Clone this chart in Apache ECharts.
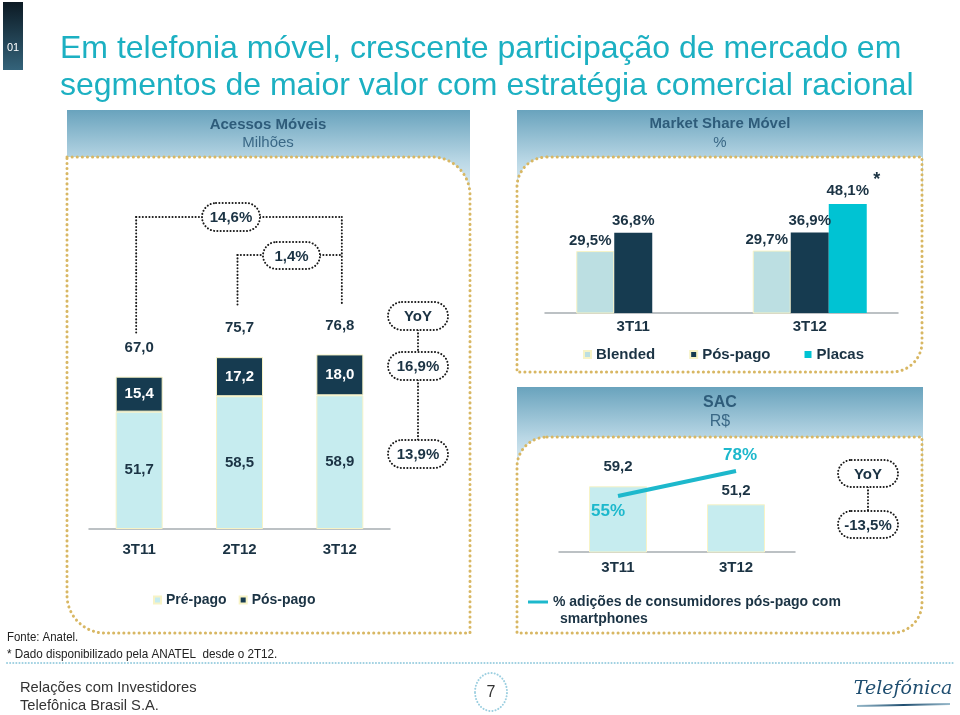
<!DOCTYPE html>
<html><head><meta charset="utf-8">
<script src="https://cdn.jsdelivr.net/npm/echarts@6/dist/echarts.min.js"></script>
<style>html,body{margin:0;padding:0;background:#fff}#c{width:960px;height:715px}</style>
</head><body><div id="c"></div>
<script>
// ---- data ----
const accCategories = ['3T11', '2T12', '3T12'];
const accPrePago = [51.7, 58.5, 58.9];
const accPosPago = [15.4, 17.2, 18.0];
const accTotal = [67.0, 75.7, 76.8];
const accGrowth = ['14,6%', '1,4%'];
const accYoY = ['YoY', '16,9%', '13,9%'];
const msCategories = ['3T11', '3T12'];
const msBlended = [29.5, 29.7];
const msPosPago = [36.8, 36.9];
const msPlacas = [null, 48.1];
const sacCategories = ['3T11', '3T12'];
const sacValues = [59.2, 51.2];
const smartphoneShare = [55, 78];
const sacYoY = ['YoY', '-13,5%'];

const DARK = '#1b3344', NAVY = '#163b50', LIGHT = '#c6ecef', BLEND = '#bcdfe2', CYAN = '#00c3d3', LINEC = '#1db8cc';
const FONT = '"Liberation Sans", Arial, sans-serif';
const fmt = v => v.toFixed(1).replace('.', ',');
const lblStyle = (color) => ({ color: color || DARK, fontWeight: 'bold', fontSize: 15, fontFamily: FONT });
const SMART_NAME = '% adições de consumidores pós-pago com';

const chart = echarts.init(document.getElementById('c'), null, { renderer: 'canvas' });

const catAxis = (grid, data, margin) => ({
  type: 'category', gridIndex: grid, data: data,
  axisLine: { lineStyle: { color: '#a7adb1', width: 1.5 } },
  axisTick: { show: false },
  axisLabel: Object.assign({ margin: margin }, lblStyle())
});
const valAxis = (grid, min, max) => ({
  type: 'value', gridIndex: grid, min: min, max: max, show: false, splitLine: { show: false }
});

const option = {
  animation: false,
  textStyle: { fontFamily: FONT },
  grid: [
    { left: 89, width: 301, top: 302, height: 227 },
    { left: 545, width: 353, top: 174, height: 139 },
    { left: 559, width: 236, top: 462, height: 90 }
  ],
  xAxis: [
    catAxis(0, accCategories, 13),
    catAxis(1, msCategories, 6),
    catAxis(2, sacCategories, 8)
  ],
  yAxis: [
    valAxis(0, 0, 100),
    valAxis(1, 5, 60),
    valAxis(2, 30, 70),
    valAxis(2, 3.5, 86.3)
  ],
  legend: [
    { data: ['Pré-pago', 'Pós-pago'], left: 148, top: 588, itemWidth: 7, itemHeight: 7, itemGap: 12, icon: 'rect',
      textStyle: { fontWeight: 'bold', fontSize: 14, color: DARK, fontFamily: FONT }, selectedMode: false },
    { data: ['Blended', 'Pós-pago', 'Placas'], left: 578, top: 342, itemWidth: 7, itemHeight: 7, itemGap: 34, icon: 'rect',
      textStyle: { fontWeight: 'bold', fontSize: 15, color: DARK, fontFamily: FONT }, selectedMode: false },
    { data: [{ name: SMART_NAME, itemStyle: { color: LINEC } }], left: 523, top: 590, itemWidth: 20, itemHeight: 3, icon: 'rect', itemGap: 10,
      textStyle: { fontWeight: 'bold', fontSize: 14, color: DARK, fontFamily: FONT }, selectedMode: false }
  ],
  series: [
    { type: 'bar', name: 'Pré-pago', xAxisIndex: 0, yAxisIndex: 0, stack: 'acc', barWidth: 47, data: accPrePago,
      itemStyle: { color: LIGHT, borderColor: '#f7f3c6', borderWidth: 1 },
      label: Object.assign({ show: true, position: 'inside', formatter: p => fmt(p.value) }, lblStyle()) },
    { type: 'bar', name: 'Pós-pago', xAxisIndex: 0, yAxisIndex: 0, stack: 'acc', barWidth: 47, data: accPosPago,
      itemStyle: { color: NAVY, borderColor: '#f7f3c6', borderWidth: 1 },
      label: Object.assign({ show: true, position: 'inside', formatter: p => fmt(p.value) }, lblStyle('#ffffff')) },
    { type: 'scatter', name: 'Total', xAxisIndex: 0, yAxisIndex: 0, data: accTotal, symbolSize: 1,
      itemStyle: { color: 'rgba(0,0,0,0)', opacity: 1 },
      label: Object.assign({ show: true, position: 'top', distance: 21, formatter: p => fmt(p.value) }, lblStyle()) },
    { type: 'bar', name: 'Blended', xAxisIndex: 1, yAxisIndex: 1, barWidth: 38, barGap: '0%', data: msBlended,
      itemStyle: { color: BLEND, borderColor: '#f7f3c6', borderWidth: 1 },
      label: Object.assign({ show: true, position: 'top', distance: 3, offset: [-5, 0], formatter: p => fmt(p.value) + '%' }, lblStyle()) },
    { type: 'bar', name: 'Pós-pago', xAxisIndex: 1, yAxisIndex: 1, barWidth: 38, barGap: '0%', data: msPosPago,
      itemStyle: { color: NAVY },
      label: Object.assign({ show: true, position: 'top', distance: 4, formatter: p => fmt(p.value) + '%' }, lblStyle()) },
    { type: 'bar', name: 'Placas', xAxisIndex: 1, yAxisIndex: 1, barWidth: 38, barGap: '0%', data: msPlacas,
      itemStyle: { color: CYAN },
      label: Object.assign({ show: true, position: 'top', distance: 6, formatter: p => fmt(p.value) + '%' }, lblStyle()) },
    { type: 'bar', name: 'SAC', xAxisIndex: 2, yAxisIndex: 2, barWidth: 58,
      data: sacValues.map((v, i) => ({ value: v, label: { distance: i === 0 ? 12 : 6 } })),
      itemStyle: { color: LIGHT, borderColor: '#f7f3c6', borderWidth: 1 },
      label: Object.assign({ show: true, position: 'top', formatter: p => fmt(p.value) }, lblStyle()) },
    { type: 'line', name: SMART_NAME, xAxisIndex: 2, yAxisIndex: 3, symbol: 'circle', symbolSize: 0.1, showSymbol: true, z: 5,
      lineStyle: { color: LINEC, width: 4 }, itemStyle: { color: LINEC },
      data: smartphoneShare.map((v, i) => ({ value: v,
        label: i === 0 ? { position: 'bottom', distance: 7, offset: [-10, 0] } : { position: 'top', distance: 7, offset: [4, 0] } })),
      label: Object.assign({ show: true, formatter: p => p.value + '%' }, lblStyle(LINEC), { fontSize: 17 }) }
  ]
};
chart.setOption(option);

// ---- decorations ----
const dotBlack = { stroke: '#1a1a1a', lineWidth: 2, lineDash: [0.1, 3.2], lineCap: 'round', fill: null };
const dotGold = { stroke: '#d8b763', lineWidth: 3, lineDash: [0.1, 5], lineCap: 'round' };
const dotBlue = { stroke: '#9ccfe0', lineWidth: 2, lineDash: [0.1, 3], lineCap: 'round', fill: null };
const line = (x1, y1, x2, y2, st, z) => ({ type: 'line', z: z || 20, shape: { x1, y1, x2, y2 }, style: Object.assign({}, st) });
const txt = (x, y, t, o, extra) => Object.assign({ type: 'text', z: 30, x, y, style: Object.assign({
  text: t, fill: DARK, fontFamily: FONT, fontSize: 15, fontWeight: 'bold', align: 'center', verticalAlign: 'middle' }, o || {}) }, extra || {});
const bubble = (x, y, w, h, t) => [
  { type: 'rect', z: 25, shape: { x, y, width: w, height: h, r: h / 2 }, style: Object.assign({}, dotBlack, { fill: '#fff' }) },
  txt(x + w / 2, y + h / 2 + 1, t)
];
const headerGrad = () => ({ type: 'linear', x: 0, y: 0, x2: 0, y2: 1, colorStops: [
  { offset: 0, color: '#69a3bd' }, { offset: 0.55, color: '#b9d7e5' }, { offset: 1, color: '#eef6fa' }] });

const px = i => chart.convertToPixel({ xAxisIndex: 0 }, i);
const xa = px(0) - 3, xb = px(1) - 2, xc = px(2) + 2;
const msX = chart.convertToPixel({ xAxisIndex: 1 }, 1);
const msY = chart.convertToPixel({ yAxisIndex: 1 }, msPlacas[1]);

const g = [];
// slide number box
g.push({ type: 'rect', z: 1, shape: { x: 3, y: 2, width: 20, height: 68 },
  style: { fill: { type: 'linear', x: 0, y: 0, x2: 0, y2: 1, colorStops: [{ offset: 0, color: '#0c1a24' }, { offset: 1, color: '#34637a' }] } } });
g.push(txt(13, 48, '01', { fill: '#ffffff', fontSize: 11, fontWeight: 'normal' }));
// title
g.push(txt(60, 49, 'Em telefonia móvel, crescente participação de mercado em', { fill: '#1cb0c2', fontSize: 32, fontWeight: 'normal', align: 'left' }));
g.push(txt(60, 86, 'segmentos de maior valor com estratégia comercial racional', { fill: '#1cb0c2', fontSize: 32, fontWeight: 'normal', align: 'left' }));
// headers
g.push({ type: 'rect', z: -10, shape: { x: 67, y: 110, width: 403, height: 92 }, style: { fill: headerGrad() } });
g.push({ type: 'rect', z: -10, shape: { x: 517, y: 110, width: 406, height: 92 }, style: { fill: headerGrad() } });
g.push({ type: 'rect', z: -10, shape: { x: 517, y: 387, width: 406, height: 92 }, style: { fill: headerGrad() } });
// panels
g.push({ type: 'rect', z: -5, shape: { x: 67, y: 157, width: 403, height: 476, r: [0, 38, 0, 38] }, style: Object.assign({ fill: '#fff' }, dotGold) });
g.push({ type: 'rect', z: -5, shape: { x: 517, y: 157, width: 405, height: 215, r: [30, 0, 30, 0] }, style: Object.assign({ fill: '#fff' }, dotGold) });
g.push({ type: 'rect', z: -5, shape: { x: 517, y: 437, width: 405, height: 196, r: [30, 0, 30, 0] }, style: Object.assign({ fill: '#fff' }, dotGold) });
// header texts
g.push(txt(268, 125, 'Acessos Móveis', { fill: '#2e5c7a' }));
g.push(txt(268, 143, 'Milhões', { fill: '#3a6886', fontWeight: 'normal' }));
g.push(txt(720, 124, 'Market Share Móvel', { fill: '#2e5c7a' }));
g.push(txt(720, 143, '%', { fill: '#3a6886', fontWeight: 'normal' }));
g.push(txt(720, 403, 'SAC', { fill: '#2e5c7a', fontSize: 16 }));
g.push(txt(720, 422, 'R$', { fill: '#3a6886', fontWeight: 'normal', fontSize: 16 }));
// growth brackets
g.push(line(xa, 217, xa, 333, dotBlack), line(xa, 217, 202, 217, dotBlack), line(260, 217, xc, 217, dotBlack), line(xc, 217, xc, 303, dotBlack));
g.push(...bubble(202, 203, 58, 28, accGrowth[0]));
g.push(line(xb, 255, xb, 305, dotBlack), line(xb, 255, 263, 255, dotBlack), line(320, 255, xc, 255, dotBlack));
g.push(...bubble(263, 242, 57, 27, accGrowth[1]));
// YoY column (left)
g.push(line(418, 330, 418, 352, dotBlack), line(418, 380, 418, 440, dotBlack));
g.push(...bubble(388, 302, 60, 28, accYoY[0]));
g.push(...bubble(388, 352, 60, 28, accYoY[1]));
g.push(...bubble(388, 440, 60, 28, accYoY[2]));
// YoY SAC
g.push(line(868, 487, 868, 511, dotBlack));
g.push(...bubble(838, 460, 60, 27, sacYoY[0]));
g.push(...bubble(838, 511, 60, 27, sacYoY[1]));
// asterisk next to Placas label
g.push(txt(msX + 67, msY - 24, '*', { fontSize: 18 }));
// legend second line
g.push(txt(560, 619, 'smartphones', { align: 'left', fontSize: 14 }));
// footer
g.push(txt(7, 637, 'Fonte: Anatel.', { align: 'left', fontWeight: 'normal', fontSize: 13, fill: '#222' }, { scaleX: 0.88 }));
g.push(txt(7, 654, '* Dado disponibilizado pela ANATEL  desde o 2T12.', { align: 'left', fontWeight: 'normal', fontSize: 13, fill: '#222' }, { scaleX: 0.9 }));
g.push(line(7, 663, 955, 663, dotBlue));
g.push(txt(20, 688, 'Relações com Investidores', { align: 'left', fontWeight: 'normal', fontSize: 15, fill: '#333' }, { scaleX: 0.98 }));
g.push(txt(20, 706, 'Telefônica Brasil S.A.', { align: 'left', fontWeight: 'normal', fontSize: 15, fill: '#333' }, { scaleX: 0.98 }));
g.push({ type: 'ellipse', z: 20, shape: { cx: 491, cy: 692, rx: 16, ry: 19 }, style: Object.assign({}, dotBlue) });
g.push(txt(491, 693, '7', { fontWeight: 'normal', fontSize: 16, fill: '#333' }));
g.push(txt(903, 689, 'Telefónica', { fontFamily: '"DejaVu Serif", serif', fontStyle: 'italic', fontSize: 19, fontWeight: 'normal', fill: '#1f4e70' }));
g.push({ type: 'line', z: 20, shape: { x1: 857, y1: 706, x2: 950, y2: 704 },
  style: { lineWidth: 2, stroke: { type: 'linear', x: 0, y: 0, x2: 1, y2: 0, colorStops: [{ offset: 0, color: '#9fc0d0' }, { offset: 0.5, color: '#1f4e70' }, { offset: 1, color: '#9fc0d0' }] } } });

chart.setOption({ graphic: { elements: g } });
</script>
</body></html>
